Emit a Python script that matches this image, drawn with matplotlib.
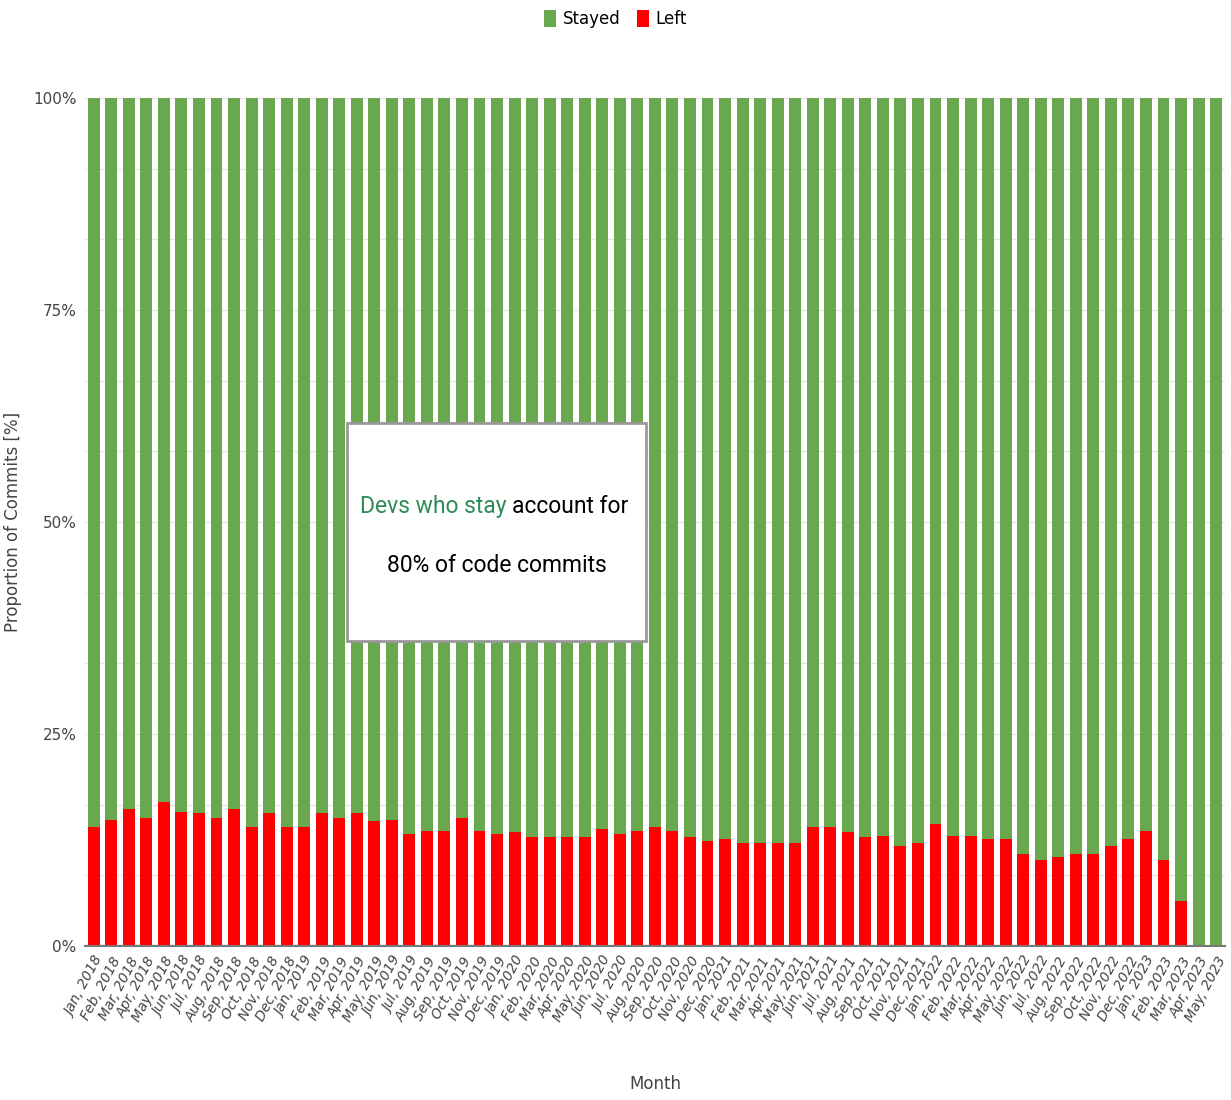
import numpy as np
import matplotlib.pyplot as plt
from matplotlib.patches import Rectangle

months = ["Jan", "Feb", "Mar", "Apr", "May", "Jun",
          "Jul", "Aug", "Sep", "Oct", "Nov", "Dec"]
labels = []
for year in range(2018, 2024):
    for m in months:
        labels.append(f"{m}, {year}")
labels = labels[:65]  # Jan 2018 .. May 2023

# share of commits by devs who left (%)
left = [14.0, 14.9, 16.1, 15.1, 17.0, 15.8, 15.7, 15.1, 16.1, 14.0, 15.7, 14.0,
        14.0, 15.7, 15.1, 15.7, 14.7, 14.9, 13.2, 13.6, 13.6, 15.1, 13.6, 13.2,
        13.4, 12.8, 12.8, 12.8, 12.8, 13.8, 13.2, 13.6, 14.0, 13.6, 12.8, 12.4,
        12.6, 12.2, 12.2, 12.2, 12.2, 14.0, 14.0, 13.4, 12.8, 13.0, 11.8, 12.2,
        14.4, 13.0, 13.0, 12.6, 12.6, 10.9, 10.1, 10.5, 10.9, 10.9, 11.8, 12.6,
        13.6, 10.1, 5.3, 0.0, 0.0]
stayed = [100 - v for v in left]

green = "#6aa84f"
red = "#ff0000"

fig = plt.figure(figsize=(12.31, 11), dpi=100)
ax = fig.add_axes([0.069, 0.14, 0.926, 0.771])

x = np.arange(len(labels))
ax.bar(x, left, width=0.68, color=red, label="Left", zorder=2)
ax.bar(x, stayed, width=0.68, bottom=left, color=green, label="Stayed", zorder=2)

ax.set_xlim(-0.5, len(labels) - 0.5)
ax.set_ylim(0, 100)
ax.set_yticks(np.arange(0, 101, 100 / 12))
ax.set_yticklabels([f"{int(round(i * 25 / 3))}%" if i % 3 == 0 else ""
                    for i in range(13)], fontsize=11, color="#444444")
ax.grid(axis="y", color="#e6e6e6", linewidth=1, zorder=0)
ax.tick_params(axis="y", length=0, pad=6)
ax.tick_params(axis="x", length=0, pad=6)

ax.set_xticks(x)
ax.set_xticklabels(labels, rotation=62, ha="right", rotation_mode="anchor",
                   fontsize=10, color="#444444", style="italic")

for s in ["top", "right", "left"]:
    ax.spines[s].set_visible(False)
ax.spines["bottom"].set_color("#777777")
ax.spines["bottom"].set_linewidth(1.5)

ax.set_ylabel("Proportion of Commits [%]", fontsize=12, color="#444444")
ax.yaxis.set_label_coords(-0.055, 0.5)
ax.set_xlabel("Month", fontsize=12, color="#444444")
ax.xaxis.set_label_coords(0.5, -0.152)

h, l = ax.get_legend_handles_labels()
fig.legend(h[::-1], l[::-1], loc="upper center", bbox_to_anchor=(0.50, 1.005), ncol=2,
           frameon=False, fontsize=12, handlelength=0.7, handleheight=1.2,
           handletextpad=0.4, columnspacing=1.0)

# annotation box
box = Rectangle((0.230, 0.360), 0.262, 0.257, transform=ax.transAxes,
                facecolor="white", edgecolor="#999999", linewidth=2, zorder=5)
ax.add_patch(box)
ax.text(0.370, 0.518, "Devs who stay", transform=ax.transAxes, fontsize=16.5,
        family="Roboto", color="#2e8b57", ha="right", va="center", zorder=6)
ax.text(0.375, 0.518, "account for", transform=ax.transAxes, fontsize=16.5,
        family="Roboto", color="black", ha="left", va="center", zorder=6)
ax.text(0.361, 0.449, "80% of code commits", transform=ax.transAxes, fontsize=16.5,
        family="Roboto", color="black", ha="center", va="center", zorder=6)

fig.savefig("out.png", dpi=100)
